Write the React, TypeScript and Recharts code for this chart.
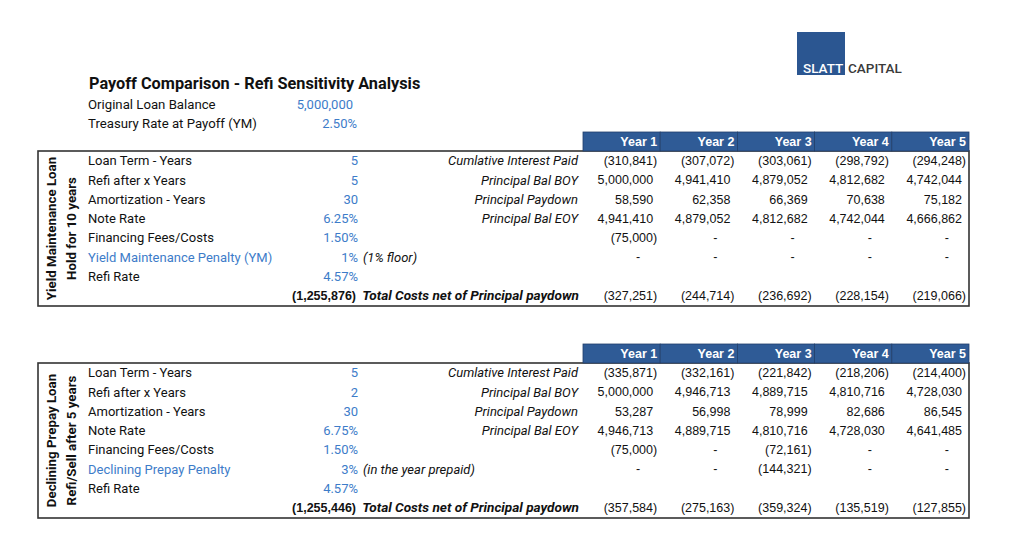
import { ScatterChart, Scatter, XAxis, YAxis } from "recharts";

const years = ["Year 1", "Year 2", "Year 3", "Year 4", "Year 5"];
const rowIdx = [0, 1, 2, 3, 4, 5, 6, 7];
const paramLabels = ["Loan Term - Years", "Refi after x Years", "Amortization - Years", "Note Rate", "Financing Fees/Costs"];
const refiLabel = "Refi Rate";
const flowLabels = ["Cumlative Interest Paid", "Principal Bal BOY", "Principal Paydown", "Principal Bal EOY"];
const totalLabel = "Total Costs net of Principal paydown";

// yield maintenance loan
const ymParams = ["5", "5", "30", "6.25%", "1.50%", "1%", "4.57%"];
const ymInterest = [-310841, -307072, -303061, -298792, -294248];
const ymBalBoy = [5000000, 4941410, 4879052, 4812682, 4742044];
const ymPaydown = [58590, 62358, 66369, 70638, 75182];
const ymBalEoy = [4941410, 4879052, 4812682, 4742044, 4666862];
const ymFees = [-75000, 0, 0, 0, 0];
const ymPenalty = [0, 0, 0, 0, 0];
const ymTotal = [-327251, -244714, -236692, -228154, -219066];
const ymNet = -1255876;

// declining prepay loan
const dpParams = ["5", "2", "30", "6.75%", "1.50%", "3%", "4.57%"];
const dpInterest = [-335871, -332161, -221842, -218206, -214400];
const dpBalBoy = [5000000, 4946713, 4889715, 4810716, 4728030];
const dpPaydown = [53287, 56998, 78999, 82686, 86545];
const dpBalEoy = [4946713, 4889715, 4810716, 4728030, 4641485];
const dpFees = [-75000, 0, -72161, 0, 0];
const dpPenalty = [0, 0, -144321, 0, 0];
const dpTotal = [-357584, -275163, -359324, -135519, -127855];
const dpNet = -1255446;

const BLUE = "#3D7CC9";
const HEAD = "#2F5B96";
const LABEL_FONT = "Roboto, sans-serif";
const NUM_FONT = "'Liberation Sans', Arial, sans-serif";
const PLOT_L = 583;
const PLOT_R = 969;
const COL_W = (PLOT_R - PLOT_L) / 5;

const fmt = (v: number | null) => {
  if (v === null) return "";
  if (v === 0) return "-";
  const s = Math.abs(v).toLocaleString("en-US");
  return v < 0 ? `(${s})` : s;
};

// right edge nudges like excel accounting format
const nudge = (v: number | null) => (v === 0 ? 17 : v !== null && v > 0 ? 4 : 0);

interface TableProps {
  top: number;
  params: string[];
  penaltyLabel: string;
  note: string;
  rows: (number | null)[][];
  net: number;
}

function LoanTable({ top, params, penaltyLabel, note, rows, net }: TableProps) {
  const data = rowIdx.flatMap((r) => years.map((_, c) => ({ r, c, v: rows[r][c] })));

  const HeaderTick = (p: any) => {
    const x = p.x;
    return (
      <g>
        <rect x={x - COL_W / 2} y={top - 19} width={COL_W} height={19} fill={HEAD} stroke="#223f6b" strokeWidth={0.8} />
        <text x={x + COL_W / 2 - 3} y={top - 9.5} dy="0.36em" textAnchor="end" fill="#fff"
          fontFamily={NUM_FONT} fontWeight="bold" fontSize={12.5}>
          {years[p.payload.value]}
        </text>
      </g>
    );
  };

  const RowTick = (p: any) => {
    const r = p.payload.value;
    const y = p.y;
    const lbl = r < 5 ? paramLabels[r] : r === 5 ? penaltyLabel : r === 6 ? refiLabel : "";
    return (
      <g fontFamily={LABEL_FONT} fontSize={13}>
        {lbl && (
          <text x={88} y={y} dy="0.36em" fill={r === 5 ? BLUE : "#111"}>{lbl}</text>
        )}
        {r < 7 && (
          <text x={358} y={y} dy="0.36em" textAnchor="end" fill={BLUE}>{params[r]}</text>
        )}
        {r === 5 && (
          <text x={363} y={y} dy="0.36em" fontStyle="italic" fill="#111">{note}</text>
        )}
        {r < 4 && (
          <text x={578} y={y} dy="0.36em" textAnchor="end" fontStyle="italic" fill="#111">{flowLabels[r]}</text>
        )}
        {r === 7 && (
          <>
            <text x={356} y={y} dy="0.36em" textAnchor="end" fontWeight="bold" fill="#111"
              fontFamily={NUM_FONT} fontSize={12.5}>{fmt(net)}</text>
            <text x={579} y={y} dy="0.36em" textAnchor="end" fontWeight="bold" fontStyle="italic" fill="#111"
              fontSize={13.6}>{totalLabel}</text>
          </>
        )}
      </g>
    );
  };

  const Cell = (p: any) => {
    const v = p.payload.v;
    if (v === null || p.cx == null) return <g />;
    return (
      <text x={p.cx + COL_W / 2 - 3 - nudge(v)} y={p.cy} dy="0.36em" textAnchor="end"
        fontFamily={NUM_FONT} fontSize={12.5} fill="#111">
        {fmt(v)}
      </text>
    );
  };

  return (
    <div style={{ position: "absolute", left: 0, top: 0 }}>
      <ScatterChart width={1024} height={top + 155} margin={{ top: top - 19, right: 1024 - PLOT_R, bottom: 1, left: 0 }}>
        <XAxis type="number" dataKey="c" orientation="top" domain={[-0.5, 4.5]} ticks={[0, 1, 2, 3, 4]}
          interval={0} height={19} axisLine={false} tickLine={false} tick={HeaderTick} />
        <YAxis type="number" dataKey="r" domain={[-0.5, 7.5]} reversed ticks={rowIdx} interval={0}
          width={PLOT_L} axisLine={false} tickLine={false} tick={RowTick} />
        <Scatter data={data} shape={Cell} isAnimationActive={false} />
      </ScatterChart>
    </div>
  );
}

function Frame({ top, line1, line2 }: { top: number; line1: string; line2: string }) {
  const h = 155;
  const cy = top + h / 2;
  return (
    <g>
      <rect x={38} y={top} width={PLOT_R - 38} height={h} fill="none" stroke="#333" strokeWidth={1.6} />
      <text x={51} y={cy} transform={`rotate(-90 51 ${cy})`} textAnchor="middle" dy="0.36em"
        fontFamily={LABEL_FONT} fontWeight="bold" fontSize={13.3} fill="#111">{line1}</text>
      <text x={71} y={cy} transform={`rotate(-90 71 ${cy})`} textAnchor="middle" dy="0.36em"
        fontFamily={LABEL_FONT} fontWeight="bold" fontSize={13.3} fill="#111">{line2}</text>
    </g>
  );
}

export default function App() {
  const ymRows = [ymInterest, ymBalBoy, ymPaydown, ymBalEoy, ymFees, ymPenalty, years.map(() => null), ymTotal];
  const dpRows = [dpInterest, dpBalBoy, dpPaydown, dpBalEoy, dpFees, dpPenalty, years.map(() => null), dpTotal];
  return (
    <div style={{ position: "relative", width: 1024, height: 556, background: "#fff", overflow: "hidden" }}>
      <style>{`body{margin:0}`}</style>
      <svg width={1024} height={556} style={{ position: "absolute", left: 0, top: 0 }}>
        <text x={89} y={83} dy="0.36em" fontFamily={LABEL_FONT} fontWeight="bold" fontSize={16.3} fill="#111">
          Payoff Comparison - Refi Sensitivity Analysis
        </text>
        <text x={88} y={104} dy="0.36em" fontFamily={LABEL_FONT} fontSize={13.2} fill="#111">Original Loan Balance</text>
        <text x={353} y={104} dy="0.36em" textAnchor="end" fontFamily={LABEL_FONT} fontSize={13} fill={BLUE}>5,000,000</text>
        <text x={88} y={123} dy="0.36em" fontFamily={LABEL_FONT} fontSize={13.2} fill="#111">Treasury Rate at Payoff (YM)</text>
        <text x={357} y={123} dy="0.36em" textAnchor="end" fontFamily={LABEL_FONT} fontSize={13} fill={BLUE}>2.50%</text>
        <rect x={797} y={32} width={48} height={43} fill="#2B5691" />
        <text x={803} y={68} dy="0.36em" fontFamily={LABEL_FONT} fontWeight={500} fontSize={13.5} fill="#fff">SLATT</text>
        <text x={848} y={68} dy="0.36em" fontFamily={LABEL_FONT} fontWeight={500} fontSize={13.5} fill="#3a3a3a">CAPITAL</text>
        <Frame top={151} line1="Yield Maintenance Loan" line2="Hold for 10 years" />
        <Frame top={363} line1="Declining Prepay Loan" line2="Refi/Sell after 5 years" />
      </svg>
      <LoanTable top={151} params={ymParams} penaltyLabel="Yield Maintenance Penalty (YM)" note="(1% floor)" rows={ymRows} net={ymNet} />
      <LoanTable top={363} params={dpParams} penaltyLabel="Declining Prepay Penalty" note="(in the year prepaid)" rows={dpRows} net={dpNet} />
    </div>
  );
}
